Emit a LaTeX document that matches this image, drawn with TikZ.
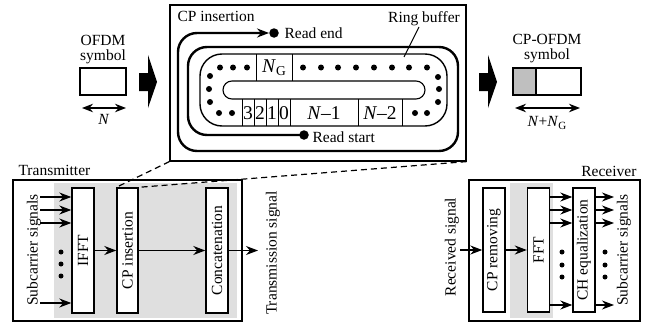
\documentclass[tikz,border=0pt]{standalone}
\usepackage{fontspec}
\setmainfont{Liberation Serif}
\usetikzlibrary{arrows.meta}

\begin{document}
\begin{tikzpicture}[x=1pt,y=-1pt,
  font=\fontsize{15.5}{18}\selectfont,
  frame/.style={draw,line width=1.2pt,inner sep=0pt},
  blk/.style={draw,line width=1.4pt,fill=white,inner sep=0pt,minimum width=22pt,minimum height=125pt},
  arr/.style={-{Stealth[length=12pt,width=9pt]},line width=1.2pt},
  darr/.style={{Stealth[length=11pt,width=8.5pt]}-{Stealth[length=11pt,width=8.5pt]},line width=1.2pt},
  track/.style={line width=2.4pt,rounded corners=19pt},
  smalldot/.style={circle,fill,inner sep=0pt,minimum size=6pt},
  bigdot/.style={circle,fill,inner sep=0pt,minimum size=9.5pt},
  zoomline/.style={line width=1.2pt,dash pattern=on 6pt off 4pt},
  cellline/.style={line width=1pt},
  celltext/.style={inner sep=0pt,font=\fontsize{19.5}{20}\selectfont},
  twoline/.style={align=center,inner sep=0pt,font=\fontsize{15.5}{15}\selectfont}]
\useasboundingbox (0,0) rectangle (646,324);

% ---------- OFDM symbol (input) ----------
\node[twoline] (lab1) at (103,50) {OFDM\\symbol};
\node[frame,line width=1.4pt,minimum width=46pt,minimum height=27pt] (sym1) at (103,81.5) {};
\coordinate (s1l) at (82,108);
\coordinate (s1r) at (126,108);
\draw[darr] (s1l) -- (s1r);
\node at (104,119) {\textit{N}};

% block arrows
\fill (139,73) -- (148,73) -- (148,55) -- (157,82) -- (148,108) -- (148,91) -- (139,91) -- cycle;
\fill (479,73) -- (488,73) -- (488,55) -- (497,82) -- (488,108) -- (488,91) -- (479,91) -- cycle;

% ---------- CP-OFDM symbol (output) ----------
\node[twoline] (lab2) at (547,49) {CP-OFDM\\symbol};
\fill[gray!50] (513,68) rectangle (536,95);
\node[frame,line width=1.4pt,minimum width=68pt,minimum height=27pt] (sym2) at (547,81.5) {};
\draw[line width=1.4pt] (536,68) -- (536,95);
\coordinate (s2l) at (515,108);
\coordinate (s2r) at (580,108);
\draw[darr] (s2l) -- (s2r);
\node at (547,123) {\textit{N}+\textit{N}\raisebox{-2.5pt}{\fontsize{11}{11}\selectfont G}};

% ---------- CP insertion detail ----------
\node[frame,minimum width=296pt,minimum height=156pt] (cpbox) at (318,83) {};
\node[anchor=west] at (174,16) {CP insertion};

% ring buffer memory
\draw[line width=1.4pt,rounded corners=22pt] (200,54) rectangle (447,126);
\draw[line width=1.1pt,rounded corners=9pt] (223,81) rectangle (425,99);
\foreach \x in {242,254,266,278,290,358,402} \draw[cellline] (\x,99) -- (\x,126);
\draw[cellline] (256,54) -- (256,81) (292,54) -- (292,81);
\node[celltext] at (248,113) {3};
\node[celltext] at (260,113) {2};
\node[celltext] at (272,113) {1};
\node[celltext] at (284,113) {0};
\node[celltext] at (324,113) {\textit{N}–1};
\node[celltext] at (380,113) {\textit{N}–2};
\node[celltext] at (274,67.5) {\textit{N}\raisebox{-3pt}{\fontsize{13.5}{14}\selectfont G}};

% samples not shown individually
\foreach \x in {220,233,247,303,321,338,356,374,392,409,427}
  \node[smalldot] at (\x,67.5) {};
\foreach \p in {(210,76),(209,89),(210,102),(219,113),(232,113),
                (438,77),(439,89),(438,102),(415,113),(427,113)}
  \node[smalldot] at \p {};

% read pointer path
\node[bigdot] (rs) at (304,135) {};
\node[bigdot] (re) at (274,33) {};
\draw[track,arr,line width=2.4pt] (rs.center) -- (188,135) -- (188,47) -- (458,47)
  -- (458,151) -- (178,151) -- (178,33) -- (re.west);
\node[anchor=west] at (281,33) {Read end};
\node[anchor=west] at (309,137) {Read start};

% ring buffer label
\node (rb) at (424,18.5) {Ring buffer};
\coordinate (rbp) at (404,57);
\draw[line width=1.1pt] (419,27) -- (rbp);

% ---------- Transmitter ----------
\node[anchor=west] at (15,170) {Transmitter};
\node[frame,minimum width=229pt,minimum height=141pt] (tx) at (127.5,250.5) {};
\fill[gray!25] (54,183) rectangle (237,318);
\node[blk] (ifft) at (83,250.5) {};
\node[rotate=90] at (ifft) {IFFT};
\node[blk,minimum width=21pt] (cpi) at (127.5,250.5) {};
\node[rotate=90] at (cpi) {CP insertion};
\node[blk] (cat) at (217,250.5) {};
\node[rotate=90] at (cat) {Concatenation};

\node[rotate=90] at (34,250) {Subcarrier signals};
\foreach \y in {197,210,223,303} {
  \coordinate (tin) at (40,\y);
  \draw[arr] (tin) -- (tin -| ifft.west);
}
\foreach \y in {252,264,276} \node[smalldot,minimum size=5pt] at (61,\y) {};
\draw[arr] (ifft.east) -- (cpi.west);
\draw[arr] (cpi.east) -- (cat.west);
\coordinate (txout) at (258,250.5);
\draw[arr] (cat.east) -- (txout);
\node[rotate=90] at (273,253) {Transmission signal};

% zoom lines
\draw[zoomline] (cpbox.south west) -- (cpi.north west);
\draw[zoomline] (cpbox.south east) -- (cpi.north east);

% ---------- Receiver ----------
\node[anchor=east] at (640,171) {Receiver};
\node[frame,minimum width=171pt,minimum height=141pt] (rx) at (554.5,250.5) {};
\fill[gray!25] (510,183) rectangle (553,318);
\node[blk,minimum height=124pt] (cprm) at (494,250) {};
\node[rotate=90] at (cprm) {CP removing};
\node[blk,minimum height=124pt] (fft) at (538.5,250) {};
\node[rotate=90] at (fft) {FFT};
\node[blk,minimum height=124pt] (che) at (584,250) {};
\node[rotate=90] at (che) {CH equalization};

\node[rotate=90] at (452,247) {Received signal};
\coordinate (rxin) at (460,250);
\draw[arr] (rxin) -- (cprm.west);
\draw[arr] (cprm.east) -- (fft.west);
\foreach \y in {197,210,223,305} {
  \coordinate (ra) at (fft.east |- 0,\y);
  \draw[arr] (ra) -- (ra -| che.west);
  \coordinate (rb2) at (che.east |- 0,\y);
  \draw[arr] (rb2) -- (614,\y);
}
\foreach \y in {252,265,277} {
  \node[smalldot,minimum size=5pt] at (562,\y) {};
  \node[smalldot,minimum size=5pt] at (605,\y) {};
}
\node[rotate=90] at (624,250) {Subcarrier signals};
\end{tikzpicture}
\end{document}
